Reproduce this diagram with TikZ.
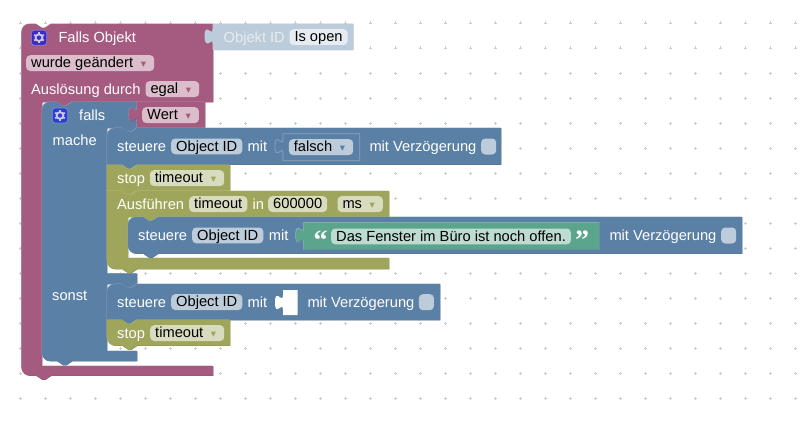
\documentclass[tikz,border=0pt]{standalone}
\usepackage{fontspec}
\setmainfont{Liberation Sans}
\newfontfamily\arrowfont{DejaVu Sans}
\newfontfamily\quotefont{Liberation Serif}[BoldFont={Liberation Serif Bold}]
\usepackage{xcolor}
\usepackage{tikz}
\definecolor{purp}{HTML}{A55B80}
\definecolor{purpdark}{HTML}{844966}
\definecolor{purplight}{HTML}{C08CA6}
\definecolor{purppill}{HTML}{DBBDCC}
\definecolor{steel}{HTML}{5B80A5}
\definecolor{steeldark}{HTML}{496684}
\definecolor{steellight}{HTML}{8CA6C0}
\definecolor{steelpill}{HTML}{BDCCDB}
\definecolor{olive}{HTML}{9FA55B}
\definecolor{olivedark}{HTML}{7F8449}
\definecolor{olivelight}{HTML}{BFC38C}
\definecolor{olivepill}{HTML}{D8DBBD}
\definecolor{mint}{HTML}{5BA58C}
\definecolor{mintdark}{HTML}{498470}
\definecolor{mintlight}{HTML}{8CC0AE}
\definecolor{mintpill}{HTML}{BDDBD1}
\definecolor{ghost}{HTML}{BDCCDB}
\definecolor{ghostdark}{HTML}{BDCCDB}
\definecolor{ghostlight}{HTML}{BDCCDB}
\definecolor{ghostpill}{HTML}{E7ECF2}
\definecolor{gearviolet}{HTML}{3B2BC0}
\definecolor{gearblue}{HTML}{2A3FCB}
\definecolor{gearlight}{HTML}{C8C4EC}
\newcommand{\blockfont}{\fontsize{14.67}{17}\selectfont}
% bottom tab and top notch of a statement block
\newcommand{\notchright}{-- ++(6,4) -- ++(3,0) -- ++(6,-4)}
\newcommand{\notchleft}{-- ++(-6,4) -- ++(-3,0) -- ++(-6,-4)}
% round corners on the left side of a block
\newcommand{\cornertop}[2]{-- (#1,#2+8) .. controls (#1,#2+3.6) and (#1+3.6,#2) .. (#1+8,#2)}
\newcommand{\cornerbottom}[2]{-- (#1+8,#2) .. controls (#1+3.6,#2) and (#1,#2-3.6) .. (#1,#2-8)}
% puzzle tab on the left side of a value block
\newcommand{\valuetab}[2]{-- (#1,#2+20) .. controls (#1,#2+10) and (#1-8,#2+28) .. (#1-8,#2+12.5)
  .. controls (#1-8,#2-3) and (#1,#2+15) .. (#1,#2+5) -- (#1,#2)}
\newcommand{\blockshape}[2]{%
  \fill[#1dark,shift={(.4,.4)}] #2;
  \fill[#1light,shift={(-.4,-.4)}] #2;
  \fill[#1] #2;}
\newcommand{\dropdown}[3]{\makebox[#1pt]{#2\hfill{\arrowfont\color{#3}\fontsize{10.5}{12}\selectfont ▾}\hspace{3pt}}}

\begin{document}
\begin{tikzpicture}[x=1pt,y=-1pt,
  blocktext/.style={anchor=base west, inner sep=0pt, text=white, font=\blockfont},
  quotetext/.style={blocktext, font=\quotefont\bfseries\fontsize{28}{28}\selectfont},
  pill/.style={anchor=north west, fill=#1, rounded corners=4pt, text=black, font=\blockfont,
    inner xsep=5pt, inner ysep=1pt, text height=11.5pt, text depth=2.3pt},
  tickbox/.style={anchor=north west, fill=steelpill, rounded corners=4pt, inner sep=0pt,
    minimum width=15pt, minimum height=16pt},
  gridmark/.style={draw=black!20, line width=.6pt},
  gearbox/.style={fill=#1, draw=#1!60!white, line width=.7pt, rounded corners=3pt, inner sep=0pt,
    minimum width=15.5pt, minimum height=15pt},
  gearicon/.pic={
    \foreach \ang in {30,90,...,330}
      \draw[gearlight, line width=1.8pt] (0,0) -- ++(\ang:5.6);
    \fill[gearlight] (0,0) circle (4.4);
    \fill[#1] (0,0) circle (2.2);
  }
]
\useasboundingbox (0,0) rectangle (802,420);
\fill[white] (0,0) rectangle (802,420);

% Workspace grid
\foreach \px in {20,45,...,795}
  \foreach \py in {23,48,...,398}
    \draw[gridmark] (\px-1.5,\py) -- ++(3,0) (\px,\py-1.5) -- ++(0,3);

% Falls Objekt
\blockshape{purp}{(21.6,200) \cornertop{21.6}{24} -- (36,24) \notchright
  -- (213,24) -- (213,102) -- (72,102) \notchleft -- (42,102) -- (42,366) -- (213,366) -- (213,375.5)
  -- (51,375.5) \notchleft \cornerbottom{21.6}{375.5} -- cycle}
\blockshape{ghost}{(213,24) -- (353.3,24) -- (353.3,50) -- (213,50) \valuetab{213}{24} -- cycle}
\node[gearbox=gearviolet] (gearobj) at (39,37.7) {};
\pic at (gearobj) {gearicon=gearviolet};
\node[blocktext] (fallsobj) at (58.3,42) {Falls Objekt};
\node[blocktext, text=ghostpill] (objid) at (223.5,42) {Objekt ID};
\node[pill=ghostpill, minimum width=58pt] (isopen) at (289.3,29) {Is open};
\node[pill=purppill] (changed) at (26,55) {\dropdown{118}{wurde geändert}{purp}};
\node[blocktext] (trigger) at (31,94) {Auslösung durch};
\node[pill=purppill] (egal) at (145.3,81) {\dropdown{43.7}{egal}{purp}};

% falls
\blockshape{steel}{(42,200) \cornertop{42}{102} -- (57,102) \notchright
  -- (137,102) -- (137,128) \notchleft -- (107,128) -- (107,273.5) -- (137,273.5) -- (137,284) \notchleft
  -- (107,284) -- (107,351) -- (137,351) -- (137,361) -- (72,361) \notchleft \cornerbottom{42}{361} -- cycle}
\blockshape{purp}{(137,102) -- (205,102) -- (205,128) -- (137,128) \valuetab{137}{102} -- cycle}
\node[gearbox=gearblue] (gearif) at (60,115.5) {};
\pic at (gearif) {gearicon=gearblue};
\node[blocktext] (ifword) at (79,120) {falls};
\node[pill=purppill] (wert) at (142,107) {\dropdown{46.7}{Wert}{purp}};
\node[blocktext] (mache) at (52.5,145) {mache};
\node[blocktext] (sonst) at (52,300.7) {sonst};

% steuere, first
\blockshape{steel}{(107,150) \cornertop{107}{128} -- (122,128) \notchright
  -- (501,128) -- (501,164.5) -- (137,164.5) \notchleft -- (107,164.5) -- cycle}
\draw[steellight, line width=.7pt, fill=steel] (283,133.7) -- (359.7,133.7) -- (359.7,160.7) -- (283,160.7) \valuetab{283}{133.7} -- cycle;
\node[blocktext] (set1) at (117,151) {steuere};
\node[pill=steelpill, minimum width=71pt] (oid1) at (171,138.3) {Object ID};
\node[blocktext] (mit1) at (247.5,151) {mit};
\node[pill=steelpill] (falsch) at (288.7,139) {\dropdown{54.3}{falsch}{steel}};
\node[blocktext] (delay1) at (369.3,151) {mit Verzögerung};
\node[tickbox] (tick1) at (481,138.3) {};

% stop, first
\blockshape{olive}{(107,165) -- (122,165) \notchright -- (230,165) -- (230,191) -- (137,191) \notchleft -- (107,191) -- cycle}
\node[blocktext] (stop1) at (117,183) {stop};
\node[pill=olivepill] (timeout1) at (149.7,170) {\dropdown{64.3}{timeout}{olive}};

% Ausfuehren
\blockshape{olive}{(107,230) -- (107,191) -- (122,191) \notchright -- (389,191) -- (389,217) -- (158,217) \notchleft
  -- (128,217) -- (128,258) -- (389,258) -- (389,269) -- (137,269) \notchleft \cornerbottom{107}{269} -- cycle}
\node[blocktext] (run) at (117,209) {Ausführen};
\node[pill=olivepill, minimum width=58pt] (timeout2) at (189,196) {timeout};
\node[blocktext] (inword) at (252.3,209) {in};
\node[pill=olivepill, minimum width=59pt] (ms600) at (268,196) {600000};
\node[pill=olivepill] (unit) at (337.3,196) {\dropdown{35.4}{ms}{olive}};

% steuere, inside Ausfuehren
\blockshape{steel}{(128,235) \cornertop{128}{217} -- (143,217) \notchright
  -- (742,217) -- (742,253.5) -- (158,253.5) \notchleft \cornerbottom{128}{253.5} -- cycle}
\draw[steellight, line width=1.4pt] (304,222.7) -- (599,222.7) -- (599,249) -- (304,249) \valuetab{304}{222.7} -- cycle;
\blockshape{mint}{(304,222.7) -- (599,222.7) -- (599,249) -- (304,249) \valuetab{304}{222.7} -- cycle}
\node[blocktext] (set2) at (138,240) {steuere};
\node[pill=steelpill, minimum width=71pt] (oid2) at (192,227.3) {Object ID};
\node[blocktext] (mit2) at (268.7,240) {mit};
\node[quotetext] (quoteopen) at (313.5,249) {“};
\node[pill=mintpill, minimum width=239.7pt] (message) at (331,228.3) {Das Fenster im Büro ist noch offen.};
\node[quotetext] (quoteclose) at (575,249) {”};
\node[blocktext] (delay2) at (609.3,240) {mit Verzögerung};
\node[tickbox] (tick2) at (721,227.3) {};

% steuere, sonst branch
\blockshape{steel}{(107,300) \cornertop{107}{284} -- (122,284) \notchright
  -- (440,284) -- (440,320) -- (137,320) \notchleft -- (107,320) -- cycle}
\fill[white] (283,290) -- (297.5,290) -- (297.5,315) -- (283,315) \valuetab{283}{290} -- cycle;
\node[blocktext] (set3) at (117,307) {steuere};
\node[pill=steelpill, minimum width=71pt] (oid3) at (171,294) {Object ID};
\node[blocktext] (mit3) at (247.5,307) {mit};
\node[blocktext] (delay3) at (307.3,307) {mit Verzögerung};
\node[tickbox] (tick3) at (418.7,294) {};

% stop, sonst branch
\blockshape{olive}{(107,335) -- (107,320) -- (122,320) \notchright -- (230,320) -- (230,345.5) -- (137,345.5) \notchleft
  \cornerbottom{107}{345.5} -- cycle}
\node[blocktext] (stop2) at (117,338) {stop};
\node[pill=olivepill] (timeout3) at (150,325) {\dropdown{64}{timeout}{olive}};

\end{tikzpicture}
\end{document}
